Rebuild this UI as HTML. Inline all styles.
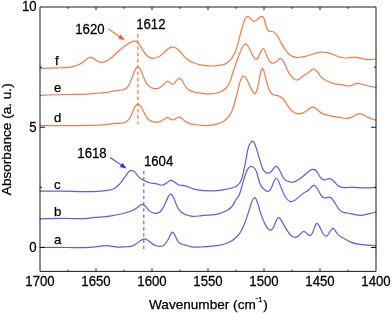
<!DOCTYPE html>
<html><head><meta charset="utf-8"><style>
html,body{margin:0;padding:0;background:#fff;width:392px;height:313px;overflow:hidden}
svg{display:block;filter:blur(0.25px)}
text{font-family:"Liberation Sans",Arial,sans-serif;font-size:13.2px;fill:#000;stroke:#000;stroke-width:0.25px}
</style></head><body>
<svg width="392" height="313" viewBox="0 0 392 313">
<rect x="0" y="0" width="392" height="313" fill="#fff"/>
<g fill="none" stroke-width="1.2" stroke-linejoin="round" stroke-linecap="round">
<path d="M40.00,68.30 C43.33,68.26 46.67,68.22 50.00,68.10 C52.67,68.01 55.33,67.86 58.00,67.80 C61.40,67.72 64.80,67.78 68.20,67.30 C69.90,67.06 71.60,66.68 73.30,66.30 C75.00,65.92 76.70,65.54 78.40,64.80 C80.10,64.06 81.80,62.96 83.50,61.70 C84.87,60.68 86.23,59.56 87.60,58.60 C88.53,57.94 89.47,57.36 90.40,57.30 C91.50,57.22 92.60,57.86 93.70,58.60 C95.13,59.56 96.57,60.69 98.00,61.40 C99.40,62.09 100.80,62.38 102.20,62.30 C105.13,62.14 108.07,60.36 111.00,58.00 C113.67,55.85 116.33,53.21 119.00,50.80 C121.67,48.39 124.33,46.21 127.00,44.40 C129.37,42.80 131.73,41.49 134.10,41.20 C135.17,41.07 136.23,41.15 137.30,42.00 C138.63,43.07 139.97,45.35 141.30,47.60 C142.93,50.36 144.57,53.06 146.20,54.90 C149.33,58.43 152.47,58.75 155.60,58.00 C158.00,57.42 160.40,56.21 162.80,53.90 C164.53,52.23 166.27,49.98 168.00,48.70 C169.40,47.67 170.80,47.26 172.20,47.20 C174.27,47.11 176.33,47.76 178.40,49.70 C180.13,51.33 181.87,53.87 183.60,55.90 C185.67,58.32 187.73,60.00 189.80,61.10 C191.20,61.84 192.60,62.32 194.00,62.80 C196.67,63.71 199.33,64.64 202.00,65.20 C205.17,65.86 208.33,66.00 211.50,66.00 C214.70,66.00 217.90,65.85 221.10,65.20 C223.50,64.71 225.90,63.94 228.30,62.00 C229.87,60.73 231.43,58.97 233.00,56.40 C233.80,55.09 234.60,53.57 235.40,51.60 C236.27,49.47 237.13,46.81 238.00,43.60 C238.80,40.64 239.60,37.21 240.40,34.00 C241.20,30.79 242.00,27.82 242.80,25.20 C243.60,22.58 244.40,20.33 245.20,18.80 C246.00,17.27 246.80,16.47 247.60,16.40 C248.67,16.31 249.73,17.54 250.80,18.80 C251.87,20.06 252.93,21.35 254.00,21.50 C255.33,21.69 256.67,20.11 258.00,18.80 C259.23,17.59 260.47,16.61 261.70,16.40 C262.60,16.25 263.50,16.50 264.40,19.50 C264.93,21.28 265.47,24.02 266.00,26.00 C267.07,29.95 268.13,30.83 269.20,31.20 C270.53,31.66 271.87,31.32 273.20,31.80 C274.53,32.28 275.87,33.59 277.20,35.60 C278.80,38.01 280.40,41.44 282.00,44.40 C283.33,46.87 284.67,49.02 286.00,50.80 C287.60,52.94 289.20,54.56 290.80,55.60 C292.47,56.68 294.13,57.14 295.80,57.35 C298.60,57.70 301.40,57.34 304.20,56.70 C306.90,56.08 309.60,55.19 312.30,54.30 C315.03,53.40 317.77,52.49 320.50,52.20 C322.87,51.95 325.23,52.16 327.60,52.70 C329.30,53.09 331.00,53.65 332.70,54.30 C334.77,55.09 336.83,56.01 338.90,56.70 C341.60,57.60 344.30,58.09 347.00,58.00 C349.73,57.90 352.47,57.20 355.20,57.30 C357.23,57.37 359.27,57.89 361.30,58.40 C363.33,58.91 365.37,59.43 367.40,59.60 C370.27,59.85 373.13,59.42 376.00,59.00" stroke="#ff7642" />
<path d="M40.00,95.30 C49.93,94.97 59.87,94.64 69.80,94.50 C76.43,94.40 83.07,94.39 89.70,93.90 C93.13,93.65 96.57,93.26 100.00,93.00 C102.97,92.77 105.93,92.63 108.90,92.10 C111.27,91.68 113.63,91.01 116.00,90.70 C118.70,90.35 121.40,90.48 124.10,89.50 C125.30,89.06 126.50,88.41 127.70,86.80 C128.90,85.19 130.10,82.62 131.30,79.60 C132.47,76.66 133.63,73.30 134.80,70.70 C135.70,68.70 136.60,67.15 137.50,66.80 C138.70,66.34 139.90,68.01 141.10,70.70 C142.27,73.32 143.43,76.89 144.60,79.60 C146.10,83.08 147.60,85.12 149.10,86.40 C150.90,87.94 152.70,88.39 154.50,88.60 C156.33,88.81 158.17,88.76 160.00,87.60 C161.37,86.73 162.73,85.25 164.10,83.80 C165.17,82.67 166.23,81.55 167.30,81.40 C168.27,81.26 169.23,81.91 170.20,82.80 C171.07,83.60 171.93,84.60 172.80,84.50 C173.97,84.37 175.13,82.25 176.30,80.70 C177.33,79.33 178.37,78.39 179.40,78.40 C180.23,78.41 181.07,79.02 181.90,80.20 C182.77,81.43 183.63,83.26 184.50,84.80 C185.33,86.28 186.17,87.49 187.00,88.40 C188.20,89.71 189.40,90.38 190.60,90.90 C191.97,91.49 193.33,91.88 194.70,92.20 C197.13,92.77 199.57,93.11 202.00,93.40 C205.17,93.78 208.33,94.07 211.50,93.90 C214.17,93.76 216.83,93.28 219.50,92.30 C221.63,91.51 223.77,90.40 225.90,88.30 C227.23,86.99 228.57,85.30 229.90,81.90 C230.93,79.27 231.97,75.61 233.00,72.30 C234.07,68.88 235.13,65.83 236.20,62.80 C237.27,59.77 238.33,56.76 239.40,54.00 C240.53,51.07 241.67,48.42 242.80,46.50 C243.77,44.86 244.73,43.76 245.70,43.90 C246.60,44.03 247.50,45.25 248.40,46.80 C249.47,48.63 250.53,50.92 251.60,53.20 C252.93,56.05 254.27,58.89 255.60,59.30 C256.40,59.55 257.20,58.92 258.00,57.60 C259.87,54.53 261.73,47.70 263.60,48.80 C264.93,49.58 266.27,54.41 267.60,57.60 C269.20,61.43 270.80,62.91 272.40,63.20 C273.73,63.44 275.07,62.86 276.40,61.60 C277.73,60.34 279.07,58.40 280.40,58.40 C281.47,58.40 282.53,59.64 283.60,61.60 C284.93,64.05 286.27,67.61 287.60,70.40 C289.20,73.74 290.80,75.96 292.40,77.60 C294.00,79.24 295.60,80.30 297.20,80.00 C298.83,79.69 300.47,77.96 302.10,76.70 C304.13,75.14 306.17,74.32 308.20,72.70 C309.90,71.35 311.60,69.44 313.30,69.20 C314.33,69.05 315.37,69.52 316.40,70.60 C317.77,72.03 319.13,74.54 320.50,76.30 C322.53,78.91 324.57,79.86 326.60,80.80 C329.33,82.07 332.07,83.33 334.80,83.90 C337.50,84.46 340.20,84.36 342.90,84.90 C345.30,85.38 347.70,86.39 350.10,85.90 C351.80,85.56 353.50,84.47 355.20,83.90 C356.57,83.45 357.93,83.33 359.30,83.50 C361.33,83.75 363.37,84.64 365.40,85.30 C368.93,86.45 372.47,86.92 376.00,87.40" stroke="#ff7642" />
<path d="M40.00,125.70 C46.67,125.64 53.33,125.58 60.00,125.60 C66.67,125.62 73.33,125.71 80.00,125.60 C84.27,125.53 88.53,125.38 92.80,125.30 C97.03,125.22 101.27,125.22 105.50,124.70 C108.07,124.38 110.63,123.88 113.20,123.60 C114.80,123.43 116.40,123.35 118.00,123.30 C119.33,123.26 120.67,123.25 122.00,123.10 C123.27,122.96 124.53,122.69 125.80,122.00 C126.77,121.48 127.73,120.71 128.70,119.60 C129.50,118.68 130.30,117.53 131.10,115.70 C131.90,113.87 132.70,111.36 133.50,109.50 C134.13,108.03 134.77,106.96 135.40,106.10 C136.20,105.01 137.00,104.26 137.80,104.20 C138.60,104.14 139.40,104.76 140.20,105.70 C140.83,106.44 141.47,107.37 142.10,108.50 C142.90,109.92 143.70,111.65 144.50,113.30 C145.30,114.95 146.10,116.53 146.90,117.70 C147.87,119.11 148.83,119.93 149.80,120.50 C150.70,121.04 151.60,121.36 152.50,121.60 C153.57,121.88 154.63,122.03 155.70,122.10 C157.80,122.23 159.90,122.04 162.00,120.70 C163.77,119.57 165.53,117.63 167.30,117.70 C169.10,117.77 170.90,119.93 172.70,120.00 C174.95,120.08 177.20,116.89 179.45,117.15 C181.17,117.35 182.88,119.56 184.60,121.00 C186.63,122.71 188.67,123.34 190.70,123.80 C193.27,124.38 195.83,124.69 198.40,125.00 C201.47,125.37 204.53,125.73 207.60,125.60 C210.67,125.47 213.73,124.85 216.80,124.10 C218.83,123.61 220.87,123.06 222.90,121.80 C224.43,120.85 225.97,119.50 227.50,118.00 C228.77,116.76 230.03,115.41 231.30,112.60 C232.43,110.08 233.57,106.39 234.70,102.50 C235.47,99.87 236.23,97.16 237.00,94.00 C237.83,90.57 238.67,86.62 239.50,83.60 C240.80,78.89 242.10,76.43 243.40,76.10 C245.03,75.69 246.67,78.64 248.30,82.30 C250.17,86.48 252.03,91.59 253.90,93.00 C255.03,93.86 256.17,93.35 257.30,89.00 C258.77,83.37 260.23,71.29 261.70,68.90 C263.20,66.45 264.70,74.12 266.20,80.10 C267.67,85.94 269.13,90.16 270.60,92.40 C271.73,94.13 272.87,94.68 274.00,95.00 C275.50,95.42 277.00,95.45 278.50,95.90 C280.30,96.45 282.10,97.61 283.90,99.90 C285.67,102.15 287.43,105.47 289.20,107.90 C291.87,111.57 294.53,113.19 297.20,113.70 C299.87,114.21 302.53,113.59 305.20,111.80 C308.10,109.85 311.00,106.51 313.90,107.30 C315.83,107.82 317.77,110.18 319.70,111.80 C323.27,114.78 326.83,115.25 330.40,115.80 C333.93,116.34 337.47,116.97 341.00,117.70 C344.07,118.34 347.13,119.06 350.20,117.90 C353.13,116.79 356.07,113.96 359.00,113.70 C361.83,113.45 364.67,115.60 367.50,117.10 C370.33,118.60 373.17,119.45 376.00,120.30" stroke="#ff7642" />
<path d="M40.00,191.10 C47.63,191.03 55.27,190.97 62.90,191.10 C69.80,191.22 76.70,191.50 83.60,191.60 C88.17,191.66 92.73,191.64 97.30,191.40 C99.87,191.26 102.43,191.05 105.00,190.70 C106.27,190.53 107.53,190.32 108.80,190.10 C110.10,189.88 111.40,189.65 112.70,189.20 C113.63,188.88 114.57,188.44 115.50,187.80 C116.47,187.13 117.43,186.25 118.40,185.30 C119.20,184.52 120.00,183.69 120.80,182.70 C121.60,181.71 122.40,180.54 123.20,179.40 C124.00,178.26 124.80,177.14 125.60,176.00 C126.40,174.86 127.20,173.70 128.00,172.70 C128.63,171.91 129.27,171.22 129.90,170.80 C130.40,170.47 130.90,170.31 131.40,170.30 C132.03,170.29 132.67,170.54 133.30,170.90 C133.87,171.22 134.43,171.63 135.00,172.20 C136.10,173.30 137.20,175.01 138.30,176.30 C139.90,178.18 141.50,179.18 143.10,180.10 C145.40,181.42 147.70,182.54 150.00,183.00 C152.33,183.46 154.67,183.24 157.00,183.90 C158.83,184.42 160.67,185.49 162.50,185.20 C164.10,184.95 165.70,183.65 167.30,182.40 C168.63,181.36 169.97,180.34 171.30,180.40 C172.37,180.45 173.43,181.19 174.50,182.00 C175.83,183.01 177.17,184.12 178.50,184.70 C180.37,185.51 182.23,185.27 184.10,185.60 C186.50,186.02 188.90,187.39 191.30,188.30 C193.40,189.10 195.50,189.55 197.60,189.90 C202.23,190.67 206.87,190.91 211.50,190.80 C215.33,190.71 219.17,190.38 223.00,189.80 C226.00,189.35 229.00,188.74 232.00,188.00 C233.27,187.69 234.53,187.35 235.80,186.60 C236.77,186.03 237.73,185.22 238.70,184.20 C239.50,183.35 240.30,182.36 241.10,180.40 C241.60,179.18 242.10,177.58 242.60,175.60 C243.07,173.75 243.53,171.57 244.00,169.50 C244.43,167.58 244.87,165.75 245.30,163.50 C246.10,159.35 246.90,153.78 247.70,150.10 C248.57,146.11 249.43,144.34 250.30,143.00 C251.00,141.92 251.70,141.11 252.40,141.10 C253.17,141.09 253.93,142.02 254.70,143.70 C255.57,145.60 256.43,148.45 257.30,151.40 C258.17,154.35 259.03,157.41 259.90,160.40 C260.73,163.28 261.57,166.10 262.40,168.10 C263.47,170.66 264.53,171.85 265.60,172.50 C266.17,172.84 266.73,173.03 267.30,173.10 C269.17,173.33 271.03,172.27 272.90,169.70 C273.97,168.23 275.03,166.26 276.10,166.10 C277.27,165.92 278.43,167.90 279.60,170.30 C280.87,172.91 282.13,176.02 283.40,178.00 C285.33,181.02 287.27,181.39 289.20,181.80 C290.47,182.07 291.73,182.34 293.00,182.20 C294.90,181.98 296.80,180.82 298.70,179.50 C300.93,177.95 303.17,176.19 305.40,174.20 C307.97,171.91 310.53,169.31 313.10,169.40 C314.70,169.46 316.30,170.56 317.90,173.20 C318.60,174.35 319.30,175.80 320.00,176.90 C321.47,179.20 322.93,179.98 324.40,179.90 C326.13,179.81 327.87,178.52 329.60,178.70 C330.80,178.82 332.00,179.65 333.20,180.80 C334.63,182.17 336.07,184.00 337.50,185.20 C338.97,186.43 340.43,186.99 341.90,187.30 C345.13,187.98 348.37,187.40 351.60,187.30 C355.10,187.19 358.60,187.65 362.10,187.80 C366.73,188.00 371.37,187.65 376.00,187.30" stroke="#5a5aff" />
<path d="M40.00,218.90 C49.93,218.58 59.87,218.27 69.80,218.50 C75.77,218.64 81.73,218.98 87.70,218.30 C90.33,218.00 92.97,217.51 95.60,217.30 C97.07,217.19 98.53,217.16 100.00,217.10 C103.83,216.94 107.67,216.52 111.50,215.90 C114.70,215.38 117.90,214.71 121.10,214.00 C124.30,213.29 127.50,212.53 130.70,211.30 C132.93,210.44 135.17,209.36 137.40,207.50 C139.10,206.09 140.80,204.22 142.50,204.40 C143.67,204.52 144.83,205.60 146.00,206.90 C147.27,208.31 148.53,209.97 149.80,211.10 C151.67,212.77 153.53,213.30 155.40,213.40 C157.00,213.49 158.60,213.27 160.20,211.80 C161.50,210.61 162.80,208.60 164.10,205.90 C165.43,203.13 166.77,199.65 168.10,197.10 C168.90,195.57 169.70,194.38 170.50,194.20 C171.57,193.96 172.63,195.51 173.70,197.90 C174.77,200.29 175.83,203.51 176.90,205.90 C178.23,208.89 179.57,210.57 180.90,211.80 C182.77,213.52 184.63,214.36 186.50,215.00 C188.60,215.72 190.70,216.18 192.80,216.30 C195.20,216.44 197.60,216.14 200.00,215.90 C202.87,215.61 205.73,215.40 208.60,215.20 C211.97,214.97 215.33,214.75 218.70,213.80 C221.57,212.99 224.43,211.65 227.30,210.20 C229.20,209.24 231.10,208.23 233.00,205.10 C234.20,203.13 235.40,200.31 236.60,198.70 C237.47,197.54 238.33,197.00 239.20,195.00 C239.83,193.53 240.47,191.28 241.10,189.00 C241.73,186.72 242.37,184.40 243.00,182.30 C243.50,180.64 244.00,179.12 244.50,177.50 C245.13,175.45 245.77,173.26 246.40,171.70 C247.03,170.14 247.67,169.19 248.30,168.40 C249.10,167.40 249.90,166.63 250.70,166.40 C251.83,166.08 252.97,166.85 254.10,167.90 C254.87,168.61 255.63,169.44 256.40,171.50 C257.43,174.28 258.47,179.30 259.50,182.50 C261.00,187.15 262.50,187.99 264.00,189.20 C265.10,190.09 266.20,191.18 267.30,191.40 C268.80,191.70 270.30,190.36 271.80,186.90 C273.23,183.59 274.67,178.35 276.10,178.00 C277.27,177.72 278.43,180.68 279.60,183.70 C281.20,187.85 282.80,192.12 284.40,195.20 C286.63,199.50 288.87,201.49 291.10,201.60 C293.63,201.73 296.17,199.45 298.70,197.10 C300.63,195.31 302.57,193.48 304.50,192.40 C306.10,191.50 307.70,191.11 309.30,189.50 C310.77,188.02 312.23,185.51 313.70,185.30 C315.10,185.10 316.50,186.98 317.90,189.50 C319.17,191.78 320.43,194.58 321.70,196.20 C322.60,197.35 323.50,197.91 324.40,198.00 C325.87,198.15 327.33,197.08 328.80,197.10 C329.67,197.11 330.53,197.51 331.40,198.30 C332.87,199.64 334.33,202.10 335.80,204.50 C337.27,206.90 338.73,209.22 340.20,210.60 C341.67,211.98 343.13,212.40 344.60,212.70 C346.93,213.18 349.27,213.34 351.60,213.80 C354.53,214.37 357.47,215.41 360.40,215.40 C362.73,215.39 365.07,214.72 367.40,214.10 C370.27,213.34 373.13,212.67 376.00,212.00" stroke="#5a5aff" />
<path d="M40.00,247.30 C49.93,247.30 59.87,247.30 69.80,247.50 C76.40,247.64 83.00,247.86 89.60,247.40 C92.07,247.23 94.53,246.96 97.00,246.60 C100.17,246.14 103.33,245.52 106.50,245.60 C109.57,245.67 112.63,246.39 115.70,246.80 C117.23,247.00 118.77,247.13 120.30,247.10 C121.87,247.07 123.43,246.88 125.00,246.80 C127.03,246.70 129.07,246.79 131.10,246.30 C132.63,245.93 134.17,245.24 135.70,244.20 C137.23,243.16 138.77,241.78 140.30,240.70 C142.10,239.44 143.90,238.60 145.70,239.10 C147.23,239.53 148.77,240.94 150.30,242.20 C151.83,243.46 153.37,244.58 154.90,245.30 C156.67,246.13 158.43,246.42 160.20,246.30 C161.50,246.21 162.80,245.90 164.10,244.90 C165.10,244.13 166.10,242.95 167.10,241.30 C167.97,239.87 168.83,238.08 169.70,236.20 C170.60,234.24 171.50,232.18 172.40,232.10 C173.20,232.03 174.00,233.52 174.80,235.20 C175.63,236.95 176.47,238.92 177.30,240.30 C178.33,242.01 179.37,242.83 180.40,243.40 C181.77,244.16 183.13,244.50 184.50,244.90 C186.20,245.39 187.90,245.97 189.60,246.40 C191.30,246.83 193.00,247.12 194.70,247.20 C196.47,247.28 198.23,247.13 200.00,247.00 C202.13,246.85 204.27,246.74 206.40,246.60 C209.97,246.37 213.53,246.05 217.10,245.60 C220.67,245.15 224.23,244.55 227.80,243.00 C230.53,241.81 233.27,240.05 236.00,237.50 C237.27,236.32 238.53,234.97 239.80,233.10 C241.40,230.74 243.00,227.57 244.60,223.50 C246.20,219.43 247.80,214.46 249.40,209.20 C250.37,206.02 251.33,202.73 252.30,200.50 C253.07,198.73 253.83,197.62 254.60,197.70 C255.43,197.79 256.27,199.29 257.10,201.50 C258.37,204.86 259.63,209.87 260.90,213.90 C262.50,218.99 264.10,222.53 265.70,225.40 C267.30,228.27 268.90,230.47 270.50,230.20 C271.77,229.99 273.03,228.23 274.30,225.40 C275.57,222.57 276.83,218.66 278.10,217.80 C279.40,216.92 280.70,219.26 282.00,221.60 C283.93,225.08 285.87,228.54 287.80,231.40 C289.10,233.32 290.40,234.97 291.70,236.00 C292.97,237.00 294.23,237.41 295.50,237.30 C296.77,237.19 298.03,236.55 299.30,235.30 C300.83,233.78 302.37,231.36 303.90,231.40 C304.93,231.43 305.97,232.57 307.00,233.70 C308.00,234.79 309.00,235.87 310.00,235.70 C311.03,235.53 312.07,234.02 313.10,231.40 C313.87,229.46 314.63,226.90 315.40,225.30 C316.07,223.91 316.73,223.24 317.40,223.50 C318.27,223.83 319.13,225.73 320.00,227.60 C321.03,229.83 322.07,232.03 323.10,233.70 C324.10,235.31 325.10,236.42 326.10,236.30 C327.13,236.17 328.17,234.73 329.20,233.00 C330.47,230.88 331.73,228.34 333.00,228.40 C334.27,228.46 335.53,231.13 336.80,233.00 C338.10,234.92 339.40,236.00 340.70,236.80 C341.80,237.47 342.90,237.95 344.00,238.50 C346.23,239.63 348.47,241.10 350.70,242.10 C353.87,243.52 357.03,244.01 360.20,244.40 C362.77,244.72 365.33,244.98 367.90,245.20 C370.60,245.43 373.30,245.62 376.00,245.80" stroke="#5a5aff" />
</g>
<line x1="137.9" y1="34.1" x2="137.9" y2="124.3" stroke="#ff7642" stroke-width="1.3" stroke-dasharray="3.5,2.75"/>
<line x1="143.8" y1="170.8" x2="143.8" y2="249" stroke="#6464ff" stroke-width="1.2" stroke-dasharray="3.5,2.75"/>
<g stroke="#ff6430" stroke-width="1.1"><line x1="108.2" y1="28.9" x2="120.5" y2="37.2"/></g>
<polygon points="124.9,40.2 118.2,38.5 120.7,34.6" fill="#ff5520"/>
<g stroke="#4040ff" stroke-width="1.1"><line x1="110.1" y1="157.5" x2="122.2" y2="165.6"/></g>
<polygon points="126.6,168.6 119.9,166.9 122.4,163.0" fill="#2a2aff"/>
<g stroke="#1a1a1a" stroke-width="1" fill="none">
<path d="M40,7 H376 V271.4 H40 Z"/>
<line x1="96" y1="271.4" x2="96" y2="268.2"/>
<line x1="96" y1="7" x2="96" y2="10.2"/>
<line x1="152" y1="271.4" x2="152" y2="268.2"/>
<line x1="152" y1="7" x2="152" y2="10.2"/>
<line x1="208" y1="271.4" x2="208" y2="268.2"/>
<line x1="208" y1="7" x2="208" y2="10.2"/>
<line x1="264" y1="271.4" x2="264" y2="268.2"/>
<line x1="264" y1="7" x2="264" y2="10.2"/>
<line x1="320" y1="271.4" x2="320" y2="268.2"/>
<line x1="320" y1="7" x2="320" y2="10.2"/>
<line x1="68" y1="271.4" x2="68" y2="269.59999999999997"/>
<line x1="68" y1="7" x2="68" y2="8.8"/>
<line x1="124" y1="271.4" x2="124" y2="269.59999999999997"/>
<line x1="124" y1="7" x2="124" y2="8.8"/>
<line x1="180" y1="271.4" x2="180" y2="269.59999999999997"/>
<line x1="180" y1="7" x2="180" y2="8.8"/>
<line x1="236" y1="271.4" x2="236" y2="269.59999999999997"/>
<line x1="236" y1="7" x2="236" y2="8.8"/>
<line x1="292" y1="271.4" x2="292" y2="269.59999999999997"/>
<line x1="292" y1="7" x2="292" y2="8.8"/>
<line x1="348" y1="271.4" x2="348" y2="269.59999999999997"/>
<line x1="348" y1="7" x2="348" y2="8.8"/>
<line x1="40" y1="247.5" x2="45" y2="247.5"/>
<line x1="376" y1="247.5" x2="371" y2="247.5"/>
<line x1="40" y1="127.25" x2="45" y2="127.25"/>
<line x1="376" y1="127.25" x2="371" y2="127.25"/>
<line x1="40" y1="187.375" x2="42" y2="187.375"/>
<line x1="376" y1="187.375" x2="374" y2="187.375"/>
<line x1="40" y1="67.125" x2="42" y2="67.125"/>
<line x1="376" y1="67.125" x2="374" y2="67.125"/>
</g>
<text transform="translate(40,285.7) scale(1,1.09)" text-anchor="middle">1700</text>
<text transform="translate(96,285.7) scale(1,1.09)" text-anchor="middle">1650</text>
<text transform="translate(152,285.7) scale(1,1.09)" text-anchor="middle">1600</text>
<text transform="translate(208,285.7) scale(1,1.09)" text-anchor="middle">1550</text>
<text transform="translate(264,285.7) scale(1,1.09)" text-anchor="middle">1500</text>
<text transform="translate(320,285.7) scale(1,1.09)" text-anchor="middle">1450</text>
<text transform="translate(376,285.7) scale(1,1.09)" text-anchor="middle">1400</text>
<text transform="translate(36.7,251.7) scale(1,1.09)" text-anchor="end">0</text>
<text transform="translate(36.7,131.8) scale(1,1.09)" text-anchor="end">5</text>
<text transform="translate(36.7,10.9) scale(1,1.09)" text-anchor="end">10</text>
<text transform="translate(11.0,139.25) rotate(-90) scale(1,1.0)" text-anchor="middle" style="font-size:13.6px">Absorbance (a. u.)</text>
<text transform="translate(149.0,308.7) scale(1,1.0)" style="font-size:13.6px">Wavenumber (cm<tspan x="106.6" y="-8.5" style="font-size:7px">-</tspan><tspan x="109.3" y="-6.7" style="font-size:7px">1</tspan><tspan x="114.3" y="0">)</tspan></text>
<text transform="translate(89.9,33.8) scale(1,1.09)" text-anchor="middle">1620</text>
<text transform="translate(150.8,29.3) scale(1,1.09)" text-anchor="middle">1612</text>
<text transform="translate(92,158.3) scale(1,1.09)" text-anchor="middle">1618</text>
<text transform="translate(158.6,165.5) scale(1,1.09)" text-anchor="middle">1604</text>
<text transform="translate(55.0,64.8) scale(1,1.0)">f</text>
<text transform="translate(54,92) scale(1,1.0)">e</text>
<text transform="translate(54,122.4) scale(1,1.0)">d</text>
<text transform="translate(54,188.9) scale(1,1.0)">c</text>
<text transform="translate(54,216) scale(1,1.0)">b</text>
<text transform="translate(54,243.8) scale(1,1.0)">a</text>
</svg>
</body></html>
